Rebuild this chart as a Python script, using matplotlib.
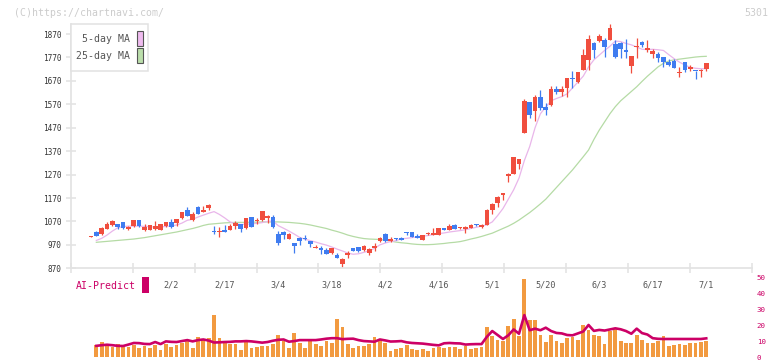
import numpy as np
import matplotlib
matplotlib.use("Agg")
import matplotlib.pyplot as plt
from matplotlib.patches import Rectangle

plt.rcParams['font.family'] = ['DejaVu Sans Mono']

#Daily prices (trading days from 1/9 to 7/1)
opens = [1005, 1025, 1018, 1039, 1055, 1060, 1066, 1039, 1049, 1075,
         1035, 1035, 1039, 1035, 1050, 1066, 1063, 1085, 1119, 1076,
         1130, 1112, 1129, 1029, 1025, 1035, 1035, 1050, 1058, 1042,
         1089, 1071, 1076, 1083, 1089, 1017, 1025, 996, 978, 1001,
         996, 988, 958, 955, 948, 934, 927, 889, 928, 957,
         961, 949, 937, 958, 988, 1016, 988, 996, 1001, 1022,
         1025, 1010, 991, 1018, 1012, 1013, 1042, 1033, 1056, 1040,
         1039, 1043, 1055, 1048, 1056, 1119, 1150, 1181, 1262, 1274,
         1316, 1449, 1580, 1543, 1601, 1558, 1569, 1635, 1622, 1641,
         1681, 1665, 1715, 1759, 1830, 1842, 1845, 1845, 1828, 1830,
         1800, 1735, 1813, 1836, 1802, 1786, 1786, 1773, 1750, 1756,
         1702, 1752, 1723, 1714, 1711, 1722]
highs = [1007, 1029, 1045, 1069, 1078, 1061, 1066, 1050, 1076, 1075,
         1058, 1055, 1072, 1059, 1067, 1080, 1081, 1112, 1132, 1109,
         1136, 1136, 1144, 1050, 1046, 1055, 1058, 1072, 1058, 1085,
         1089, 1086, 1115, 1097, 1097, 1028, 1028, 1019, 979, 1003,
         1012, 988, 969, 964, 955, 958, 934, 912, 942, 958,
         961, 969, 955, 976, 1002, 1021, 1004, 1000, 1004, 1026,
         1025, 1017, 1011, 1025, 1040, 1042, 1043, 1059, 1058, 1047,
         1052, 1060, 1060, 1060, 1123, 1150, 1179, 1193, 1275, 1345,
         1336, 1593, 1580, 1610, 1630, 1576, 1648, 1648, 1648, 1681,
         1711, 1708, 1806, 1866, 1837, 1870, 1852, 1911, 1845, 1837,
         1849, 1776, 1852, 1842, 1844, 1805, 1795, 1773, 1765, 1762,
         1731, 1752, 1738, 1714, 1722, 1748]
lows = [1005, 1006, 1013, 1036, 1052, 1036, 1039, 1035, 1048, 1046,
        1031, 1033, 1035, 1033, 1046, 1042, 1052, 1080, 1092, 1072,
        1102, 1111, 1120, 1015, 1003, 1026, 1033, 1039, 1026, 1038,
        1048, 1060, 1072, 1062, 1041, 970, 993, 995, 937, 970,
        991, 962, 957, 933, 931, 932, 912, 877, 916, 944,
        941, 944, 927, 945, 984, 984, 984, 991, 989, 1012,
        1005, 1001, 991, 1012, 1011, 1012, 1033, 1033, 1039, 1036,
        1022, 1043, 1050, 1040, 1056, 1100, 1133, 1160, 1240, 1274,
        1292, 1449, 1510, 1500, 1545, 1526, 1564, 1614, 1604, 1603,
        1641, 1660, 1715, 1716, 1769, 1837, 1772, 1845, 1766, 1769,
        1769, 1705, 1766, 1816, 1795, 1766, 1750, 1731, 1733, 1724,
        1688, 1709, 1711, 1677, 1685, 1712]
closes = [1007, 1009, 1042, 1059, 1072, 1048, 1042, 1046, 1075, 1049,
          1046, 1055, 1050, 1059, 1066, 1045, 1080, 1109, 1093, 1103,
          1103, 1120, 1140, 1024, 1029, 1026, 1050, 1063, 1039, 1085,
          1048, 1077, 1115, 1094, 1048, 980, 1013, 1018, 966, 988,
          994, 975, 962, 946, 932, 958, 914, 910, 937, 945,
          943, 964, 951, 966, 999, 987, 996, 994, 991, 1019,
          1005, 1001, 1011, 1020, 1020, 1042, 1033, 1052, 1039, 1043,
          1046, 1055, 1053, 1056, 1119, 1144, 1174, 1190, 1272, 1344,
          1336, 1584, 1526, 1601, 1556, 1547, 1635, 1624, 1635, 1681,
          1677, 1708, 1782, 1850, 1802, 1863, 1816, 1898, 1772, 1806,
          1793, 1776, 1819, 1822, 1810, 1797, 1769, 1749, 1739, 1726,
          1709, 1716, 1729, 1711, 1714, 1748]

#Moving averages as drawn (from the second day on)
ma5 = [989, 998, 1012, 1029, 1043, 1048, 1050, 1050, 1050, 1049,
       1048, 1045, 1046, 1049, 1050, 1055, 1063, 1075, 1079, 1089,
       1097, 1105, 1112, 1100, 1085, 1068, 1060, 1057, 1058, 1060,
       1062, 1065, 1070, 1072, 1052, 1041, 1029, 1016, 1002, 994,
       988, 982, 975, 969, 961, 952, 944, 935, 930, 932,
       938, 945, 955, 970, 978, 984, 988, 996, 998, 1001,
       1004, 1007, 1010, 1014, 1018, 1021, 1025, 1028, 1031, 1035,
       1040, 1045, 1050, 1056, 1068, 1095, 1125, 1165, 1205, 1255,
       1330, 1390, 1470, 1530, 1558, 1585, 1595, 1603, 1615, 1640,
       1665, 1690, 1730, 1760, 1780, 1800, 1818, 1840, 1838, 1830,
       1824, 1815, 1805, 1804, 1805, 1803, 1800, 1782, 1765, 1750,
       1738, 1728, 1724, 1722, 1722]
ma25 = [981, 983, 985, 987, 989, 991, 993, 995, 998, 1001,
        1005, 1009, 1013, 1017, 1021, 1025, 1030, 1035, 1040, 1046,
        1053, 1058, 1060, 1062, 1064, 1065, 1066, 1066, 1066, 1067,
        1067, 1068, 1068, 1068, 1068, 1067, 1066, 1064, 1062, 1059,
        1055, 1050, 1045, 1040, 1033, 1027, 1020, 1012, 1006, 1001,
        997, 995, 994, 993, 990, 986, 982, 979, 977, 974,
        972, 971, 971, 972, 974, 976, 979, 981, 984, 989,
        995, 1000, 1006, 1013, 1020, 1030, 1040, 1050, 1062, 1076,
        1092, 1108, 1126, 1145, 1165, 1190, 1215, 1240, 1265, 1290,
        1318, 1346, 1375, 1420, 1460, 1495, 1530, 1560, 1585, 1605,
        1625, 1645, 1668, 1690, 1710, 1730, 1745, 1755, 1760, 1763,
        1766, 1769, 1772, 1774, 1775]

#Volume and AI-Predict (from the second day on)
volume = [7.7, 9.6, 7.1, 6.6, 8.3, 6.6, 6.2, 7.7, 5.8, 7.1,
          5.8, 7.5, 4.5, 8.3, 6.6, 7.7, 9.2, 10.2, 5.8, 12.7,
          11.2, 12.1, 26.5, 12.1, 9.6, 8.3, 8.3, 4.5, 10.2, 5.8,
          6.4, 7.1, 7.1, 8.3, 14.0, 10.2, 5.8, 15.2, 9.0, 5.8,
          10.2, 8.3, 7.1, 10.2, 9.0, 24.0, 19.0, 8.6, 5.8, 7.1,
          7.1, 8.3, 12.7, 10.8, 9.0, 4.1, 5.2, 5.8, 7.7, 5.2,
          4.5, 5.2, 3.9, 5.8, 6.4, 5.8, 6.4, 6.4, 5.2, 7.1,
          5.2, 5.8, 6.4, 19.0, 13.3, 10.8, 10.2, 19.6, 24.0, 13.3,
          49.1, 23.4, 23.4, 14.0, 9.6, 14.0, 10.2, 9.0, 12.1, 12.5,
          10.9, 20.3, 17.2, 14.0, 13.4, 8.4, 16.5, 18.4, 10.3, 9.0,
          9.0, 14.0, 10.9, 9.0, 9.0, 10.3, 13.4, 7.1, 7.7, 8.4,
          7.7, 9.0, 9.0, 9.6, 10.3]
ai_predict = [7.2, 7.6, 7.9, 7.6, 7.2, 7.1, 8.0, 9.0, 8.9, 8.4,
              8.3, 9.6, 8.3, 10.0, 9.7, 9.6, 10.2, 10.8, 10.0, 10.8,
              11.2, 10.5, 9.3, 9.4, 9.6, 9.7, 10.0, 10.0, 10.2, 10.0,
              9.6, 9.2, 9.6, 10.4, 11.0, 11.2, 9.8, 10.2, 10.8, 10.8,
              10.8, 10.8, 11.2, 11.7, 12.0, 12.0, 11.4, 11.6, 11.7, 10.8,
              10.2, 10.0, 9.8, 11.2, 10.6, 9.9, 10.0, 10.2, 9.4, 9.0,
              8.8, 8.6, 8.2, 7.8, 7.5, 8.8, 9.0, 8.8, 8.7, 8.0,
              8.2, 8.3, 8.3, 12.9, 16.5, 14.0, 11.5, 13.8, 17.5, 14.8,
              26.5, 17.0, 18.0, 17.0, 18.6, 16.5, 15.3, 15.0, 14.0, 13.8,
              15.0, 16.2, 20.3, 16.6, 17.2, 16.8, 17.5, 18.2, 17.6, 16.5,
              14.8, 18.0, 15.2, 14.3, 12.0, 11.6, 11.5, 11.5, 11.5, 11.5,
              11.5, 11.5, 11.5, 11.5, 11.9]

#Date labels every 10 trading days
label_days = [15, 25, 35, 45, 55, 65, 75, 85, 95, 105, 115]
date_labels = ['2/2', '2/17', '3/4', '3/18', '4/2', '4/16', '5/1', '5/20', '6/3', '6/17', '7/1']
price_ticks = [870, 970, 1070, 1170, 1270, 1370, 1470, 1570, 1670, 1770, 1870]

UP = '#f04e3e'
DOWN = '#3f7cf0'
GRID = '#e2e2e2'
MAGENTA = '#cc0066'

W, H = 772, 361
fig = plt.figure(figsize=(W / 100, H / 100), dpi=100)

def box(left, top, right, bottom):
    #pixel box -> figure fraction rect
    return [left / W, 1 - bottom / H, (right - left) / W, (bottom - top) / H]

days = np.arange(len(closes))
xlim = ((70.7 - 91) / 5.35, (752 - 91) / 5.35)

#Price chart
ax = fig.add_axes(box(70.7, 24, 752, 268.3))
ax.set_xlim(*xlim)
ax.set_ylim(870, 1913)

ax.plot(days[1:], ma25, color='#b5dba5', lw=0.9, zorder=1)
ax.plot(days[1:], ma5, color='#e9b6ea', lw=0.9, zorder=1)

o = np.array(opens)
c = np.array(closes)
colors = [UP if cc >= oo else DOWN for oo, cc in zip(o, c)]
ax.vlines(days, lows, highs, colors=colors, lw=0.9, zorder=2)
ax.bar(days, np.maximum(np.abs(c - o), 4.3), bottom=np.minimum(o, c),
       width=0.86, color=colors, zorder=3)

for side in ['top', 'right']:
    ax.spines[side].set_visible(False)
for side in ['left', 'bottom']:
    ax.spines[side].set_color(GRID)
    ax.spines[side].set_linewidth(1.2)

ax.set_yticks(price_ticks)
ax.set_yticklabels([str(p) for p in price_ticks], fontsize=5.6, color='#333333')
ax.set_xticks(np.linspace(xlim[0], xlim[1], 12))
ax.set_xticklabels([])
ax.set_xticks(label_days, date_labels, minor=True)
ax.tick_params(which='major', direction='inout', length=6.5, width=1.1, color=GRID, pad=3.5)
ax.tick_params(axis='x', which='minor', length=0, pad=8.5, labelsize=6.1, labelcolor='#555555')

#Legend box
fig.add_artist(Rectangle((70.7 / W, 1 - 71 / H), 77.6 / W, 47 / H, transform=fig.transFigure,
                         facecolor='white', edgecolor=GRID, lw=1.1, zorder=5))
for row, (name, col) in enumerate([(' 5-day MA', '#efbbef'), ('25-day MA', '#bbdeab')]):
    top = 31 + row * 17.3
    fig.add_artist(Rectangle((136.7 / W, 1 - (top + 15) / H), 6 / W, 15 / H, transform=fig.transFigure,
                             facecolor=col, edgecolor='#555555', lw=0.8, zorder=6))
    fig.text(130 / W, 1 - (top + 8) / H, name, ha='right', va='center', fontsize=7.1,
             color='#555555', zorder=6)

#Volume chart
vax = fig.add_axes(box(70.7, 277.7, 752, 357.3))
vax.set_xlim(*xlim)
vax.set_ylim(0, 50)
vax.bar(days[1:], volume, width=0.7, color='#f29a40', zorder=1)
vax.plot(days[1:], ai_predict, color=MAGENTA, lw=1.9, zorder=2)
for side in vax.spines.values():
    side.set_visible(False)
vax.set_xticks([])
vax.yaxis.tick_right()
vax.set_yticks([0, 10, 20, 30, 40, 50])
vax.tick_params(axis='y', length=0, pad=3.5, labelsize=5.4, labelcolor=MAGENTA)
vax.patch.set_alpha(0)

fig.text(76 / W, 1 - 286 / H, 'AI-Predict', ha='left', va='center', fontsize=7.1, color=MAGENTA)
fig.add_artist(Rectangle((142 / W, 1 - 292.7 / H), 7 / W, 16 / H, transform=fig.transFigure,
                         facecolor=MAGENTA, edgecolor='none'))

#Watermarks
fig.text(14 / W, 1 - 13 / H, '(C)https://chartnavi.com/', ha='left', va='center',
         fontsize=7.1, color='#cccccc')
fig.text(768 / W, 1 - 13 / H, '5301', ha='right', va='center', fontsize=7.1, color='#cccccc')

fig.savefig('out.png', dpi=100)
